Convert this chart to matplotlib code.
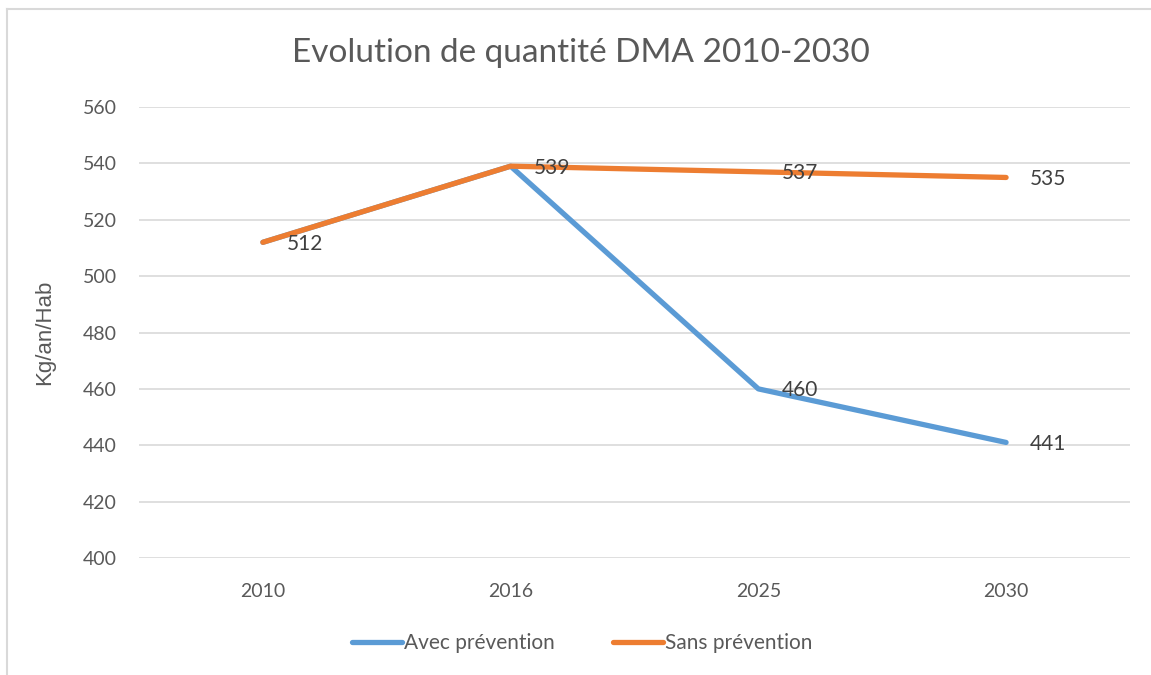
import matplotlib.pyplot as plt
from matplotlib.lines import Line2D

plt.rcParams['font.family'] = ['Lato', 'DejaVu Sans']

# donnees
annees = ['2010', '2016', '2025', '2030']
avec_prevention = [512, 539, 460, 441]
sans_prevention = [512, 539, 537, 535]
y_ticks = [400, 420, 440, 460, 480, 500, 520, 540, 560]

bleu = '#5B9BD5'
orange = '#ED7D31'
gris_txt = '#595959'

fig = plt.figure(figsize=(11.51, 6.75), dpi=100)
ax = fig.add_axes([0.1208, 0.1733, 0.8609, 0.6682])

x = range(len(annees))
ax.plot(x, avec_prevention, color=bleu, linewidth=3.8, solid_capstyle='round',
        solid_joinstyle='round', label='Avec prévention', zorder=3)
ax.plot(x, sans_prevention, color=orange, linewidth=3.8, solid_capstyle='round',
        solid_joinstyle='round', label='Sans prévention', zorder=4)

# etiquettes de donnees (a droite du point)
for i, v in enumerate(avec_prevention):
    if i < 2:
        continue
    ax.annotate(str(v), (i, v), xytext=(17, -1), textcoords='offset points',
                ha='left', va='center', fontsize=15, color='#404040', zorder=5)
for i, v in enumerate(sans_prevention):
    ax.annotate(str(v), (i, v), xytext=(17, -1), textcoords='offset points',
                ha='left', va='center', fontsize=15, color='#404040', zorder=5)

ax.set_xlim(-0.5, 3.5)
ax.set_ylim(400, 560)
ax.set_xticks(list(x))
ax.set_xticklabels(annees)
ax.set_yticks(y_ticks)
ax.tick_params(length=0, labelsize=14, colors=gris_txt, pad=16)
ax.tick_params(axis='x', pad=18)
ax.grid(axis='y', color='#D9D9D9', linewidth=1.2)
ax.set_axisbelow(True)
for s in ax.spines.values():
    s.set_visible(False)

ax.set_ylabel('Kg/an/Hab', fontsize=16, color=gris_txt, labelpad=20,
              family=['Liberation Sans', 'DejaVu Sans'])
fig.text(0.505, 0.922, 'Evolution de quantité DMA 2010-2030', ha='center', va='center',
         fontsize=24, color=gris_txt)

leg = ax.legend(loc='upper center', bbox_to_anchor=(0.447, -0.125), ncol=2, frameon=False,
                fontsize=15, handlelength=2.4, columnspacing=2.8, handletextpad=0.1)
for t in leg.get_texts():
    t.set_color(gris_txt)

# cadre du graphique
fig.add_artist(Line2D([6.5 / 1151, 6.5 / 1151], [0, 1 - 9 / 675], color='#D9D9D9', linewidth=1.5))
fig.add_artist(Line2D([6.5 / 1151, 1], [1 - 9 / 675, 1 - 9 / 675], color='#D9D9D9', linewidth=1.5))

fig.savefig('out.png', dpi=100)
